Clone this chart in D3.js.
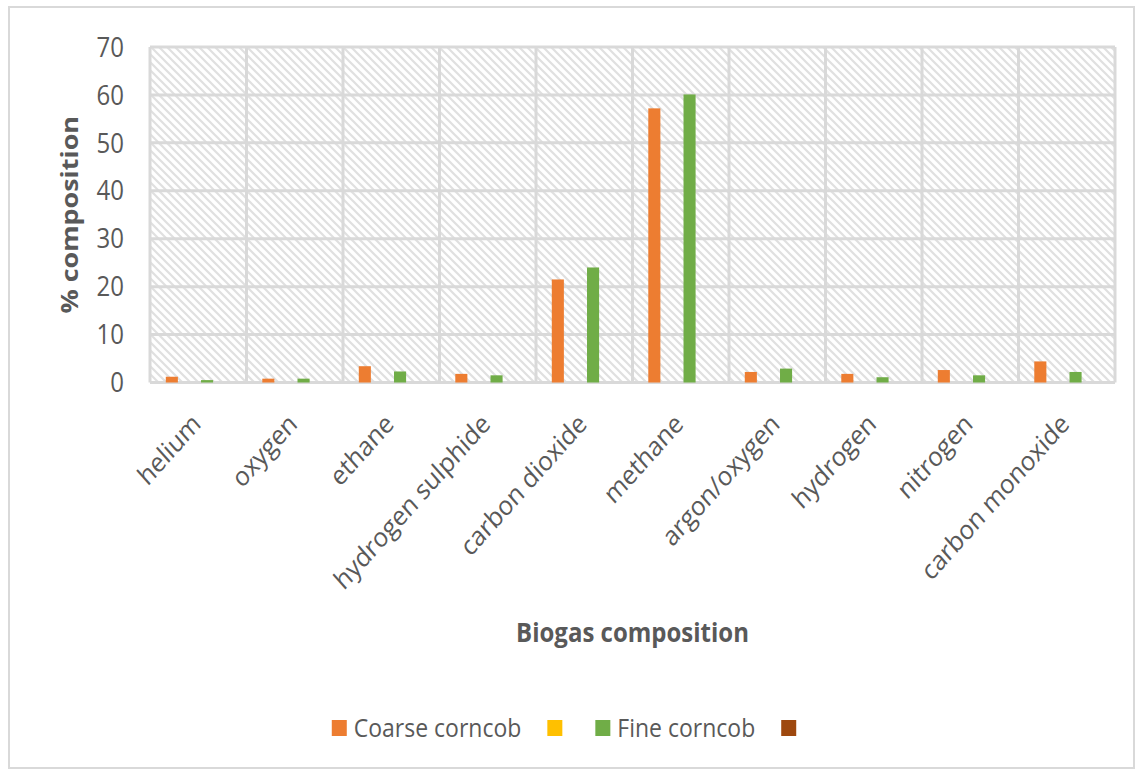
<!DOCTYPE html>
<html>
<head>
<meta charset="utf-8">
<script src="https://cdn.jsdelivr.net/npm/d3@7"></script>
<style>
  body { margin: 0; background: #fff; }
  text { font-family: "Open Sans", "Noto Sans", sans-serif; fill: #595959; }
</style>
</head>
<body>
<svg id="stage" width="1142" height="776"></svg>
<script>
var svg = d3.select("#stage");

// data
var categories = ["helium", "oxygen", "ethane", "hydrogen sulphide", "carbon dioxide",
                  "methane", "argon/oxygen", "hydrogen", "nitrogen", "carbon monoxide"];
var coarseCorncob = [1.2, 0.8, 3.4, 1.8, 21.5, 57.2, 2.2, 1.8, 2.6, 4.4];
var blankSeriesA  = [null, null, null, null, null, null, null, null, null, null];
var fineCorncob   = [0.5, 0.8, 2.3, 1.5, 24.0, 60.1, 2.9, 1.1, 1.5, 2.2];
var blankSeriesB  = [null, null, null, null, null, null, null, null, null, null];
var seriesNames   = ["Coarse corncob", "", "Fine corncob", ""];
var seriesColors  = ["#ED7D31", "#FFC000", "#70AD47", "#9E480E"];
var yTicks        = [0, 10, 20, 30, 40, 50, 60, 70];

var seriesValues = [coarseCorncob, blankSeriesA, fineCorncob, blankSeriesB];

// the source picture is stretched a little vertically, text included
var stretch = "scale(1,1.12)";

var plot = {left: 150, right: 1115, top: 47, bottom: 382.5};

var x = d3.scaleBand()
  .domain(categories)
  .range([plot.left, plot.right])
  .paddingInner(0).paddingOuter(0);

var bw = x.bandwidth();
var xSub = d3.scaleBand()
  .domain(d3.range(seriesNames.length))
  .range([bw * 0.135, bw * 0.865])
  .paddingInner(0.314)
  .paddingOuter(0.157);

var y = d3.scaleLinear()
  .domain([0, 70])
  .range([plot.bottom, plot.top]);

// outer chart border
svg.append("rect")
  .attr("x", 9).attr("y", 7)
  .attr("width", 1125).attr("height", 761)
  .attr("fill", "#fff")
  .attr("stroke", "#d9d9d9")
  .attr("stroke-width", 2);

// hatch pattern for the plot area
var defs = svg.append("defs");
var pat = defs.append("pattern")
  .attr("id", "hatch")
  .attr("patternUnits", "userSpaceOnUse")
  .attr("width", 8).attr("height", 8);
pat.append("rect").attr("width", 8).attr("height", 8).attr("fill", "#fff");
pat.append("path")
  .attr("d", "M-2,-2 L10,10 M-2,6 L2,10 M6,-2 L10,2")
  .attr("stroke", "#e0e0e0")
  .attr("stroke-width", 2.2);

svg.append("rect")
  .attr("x", plot.left).attr("y", plot.top)
  .attr("width", plot.right - plot.left)
  .attr("height", plot.bottom - plot.top)
  .attr("fill", "url(#hatch)");

// horizontal gridlines
svg.append("g").selectAll("line")
  .data(yTicks)
  .join("line")
    .attr("x1", plot.left).attr("x2", plot.right)
    .attr("y1", function(d){ return y(d); })
    .attr("y2", function(d){ return y(d); })
    .attr("stroke", "#d9d9d9")
    .attr("stroke-width", 3);

// vertical gridlines at category edges
var edges = categories.map(function(c){ return x(c); }).concat([plot.right]);
svg.append("g").selectAll("line")
  .data(edges)
  .join("line")
    .attr("x1", function(d){ return d; })
    .attr("x2", function(d){ return d; })
    .attr("y1", plot.top).attr("y2", plot.bottom)
    .attr("stroke", "#d9d9d9")
    .attr("stroke-width", 3);

// bars
var groups = svg.append("g").selectAll("g")
  .data(categories)
  .join("g")
    .attr("transform", function(d){ return "translate(" + x(d) + ",0)"; });

groups.selectAll("rect")
  .data(function(d, i){
    return seriesValues.map(function(vals, s){ return {s: s, v: vals[i]}; })
      .filter(function(p){ return p.v !== null; });
  })
  .join("rect")
    .attr("x", function(d){ return xSub(d.s); })
    .attr("width", xSub.bandwidth())
    .attr("y", function(d){ return y(d.v); })
    .attr("height", function(d){ return y(0) - y(d.v); })
    .attr("fill", function(d){ return seriesColors[d.s]; });

// y axis
var yAxis = svg.append("g")
  .attr("transform", "translate(" + (plot.left - 26) + ",0)")
  .call(d3.axisLeft(y).tickValues(yTicks).tickSize(0).tickPadding(0));
yAxis.select(".domain").remove();
yAxis.selectAll(".tick text")
  .attr("x", 0).attr("dy", "0.36em")
  .attr("transform", stretch)
  .attr("font-size", 24)
  .style("font-family", "'Open Sans', sans-serif")
  .attr("fill", "#595959");
// keep the stretched labels centred on their ticks
yAxis.selectAll(".tick")
  .attr("transform", function(d){ return "translate(0," + y(d) + ")"; });

// x axis labels
var xAxis = svg.append("g")
  .attr("transform", "translate(0," + plot.bottom + ")")
  .call(d3.axisBottom(x).tickSize(0).tickPadding(0));
xAxis.select(".domain").remove();
xAxis.selectAll(".tick text")
  .attr("font-size", 24)
  .attr("text-anchor", "end")
  .attr("y", 0).attr("dy", 0)
  .attr("transform", "translate(4,43) " + stretch + " rotate(-45)")
  .style("font-family", "'Open Sans', sans-serif")
  .attr("fill", "#595959");

// axis titles
svg.append("text")
  .attr("transform", "translate(78," + ((plot.top + plot.bottom) / 2) + ") " + stretch + " rotate(-90)")
  .attr("text-anchor", "middle")
  .attr("font-size", 24)
  .attr("font-weight", "bold")
  .text("% composition");

svg.append("text")
  .attr("transform", "translate(" + ((plot.left + plot.right) / 2) + ",642) " + stretch)
  .attr("text-anchor", "middle")
  .attr("font-size", 24)
  .attr("font-weight", "bold")
  .text("Biogas composition");

// legend
var legend = svg.append("g");
var cursor = 0;
seriesNames.forEach(function(name, i){
  var item = legend.append("g").attr("transform", "translate(" + cursor + ",0)");
  item.append("rect")
    .attr("x", 0).attr("y", -8)
    .attr("width", 15).attr("height", 16)
    .attr("fill", seriesColors[i]);
  var t = item.append("text")
    .attr("transform", "translate(22,0) " + stretch)
    .attr("dy", "0.36em")
    .attr("font-size", 23)
    .text(name);
  var w = name ? t.node().getComputedTextLength() : 0;
  cursor += 15 + 7 + w + 26;
});
var legendWidth = cursor - 33;
legend.attr("transform", "translate(" + (564 - legendWidth / 2) + ",728)");
</script>
</body>
</html>
